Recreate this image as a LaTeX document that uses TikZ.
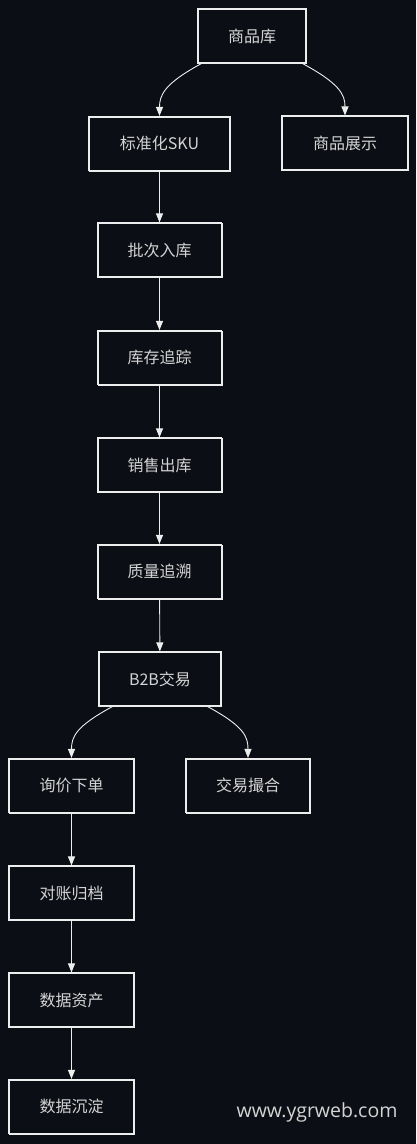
\documentclass[tikz,border=0pt]{standalone}
\usepackage{fontspec}
\setmainfont{Noto Sans CJK SC}
\newfontfamily\wmfont{Open Sans}
\usetikzlibrary{arrows.meta}
\definecolor{bgc}{HTML}{0C0E15}
\definecolor{txtc}{HTML}{D4D4D4}
\definecolor{edgec}{HTML}{EDEDED}
\tikzset{
  box/.style={draw=edgec, line width=1.1pt, fill=bgc, text=txtc, minimum height=54pt, inner sep=0pt,
    font=\fontsize{16}{19}\selectfont,
    postaction={draw=edgec, line width=0.5pt, transform canvas={shift={(0.7pt,-0.6pt)}}}},
  arr/.style={draw=edgec, line width=0.9pt, -{Triangle[width=7pt,length=9pt]}},
}
\begin{document}
\begin{tikzpicture}[x=1pt,y=-1pt]
\fill[bgc] (0,0) rectangle (416,1144);
\useasboundingbox (0,0) rectangle (416,1144);
\node[box, minimum width=108pt] (kp) at (252,36) {商品库};
\node[box, minimum width=141pt] (sku) at (159.5,143.5) {标准化SKU};
\node[box, minimum width=126pt] (zs) at (345,143) {商品展示};
\node[box, minimum width=124pt] (pc) at (159.5,250) {批次入库};
\node[box, minimum width=124pt] (kc) at (159.5,357.5) {库存追踪};
\node[box, minimum width=124pt] (xs) at (159.5,465) {销售出库};
\node[box, minimum width=124pt] (zl) at (159.5,571.5) {质量追溯};
\node[box, minimum width=122pt] (b2b) at (160,679) {B2B交易};
\node[box, minimum width=125pt] (xj) at (71.5,785.5) {询价下单};
\node[box, minimum width=124pt] (jy) at (248,785.5) {交易撮合};
\node[box, minimum width=125pt] (dz) at (71.5,893) {对账归档};
\node[box, minimum width=125pt] (sj) at (71.5,1000) {数据资产};
\node[box, minimum width=125pt] (cd) at (71.5,1106.5) {数据沉淀};
\node[text=txtc, font=\wmfont\fontsize{19.5}{23}\selectfont, inner sep=0pt] (wm) at (317,1112) {www.ygrweb.com};
\draw[arr] ([xshift=4pt]kp.south west) .. controls +(-37,20) and +(0,-21) .. (sku.north);
\draw[arr] ([xshift=-4pt]kp.south east) .. controls +(37,20) and +(0,-21) .. (zs.north);
\draw[arr] (sku) -- (pc);
\draw[arr] (pc) -- (kc);
\draw[arr] (kc) -- (xs);
\draw[arr] (xs) -- (zl);
\draw[arr] (zl) -- (b2b);
\draw[arr] ([xshift=14pt]b2b.south west) .. controls +(-37,20) and +(0,-21) .. (xj.north);
\draw[arr] ([xshift=-14pt]b2b.south east) .. controls +(37,20) and +(0,-21) .. (jy.north);
\draw[arr] (xj) -- (dz);
\draw[arr] (dz) -- (sj);
\draw[arr] (sj) -- (cd);
\end{tikzpicture}
\end{document}
